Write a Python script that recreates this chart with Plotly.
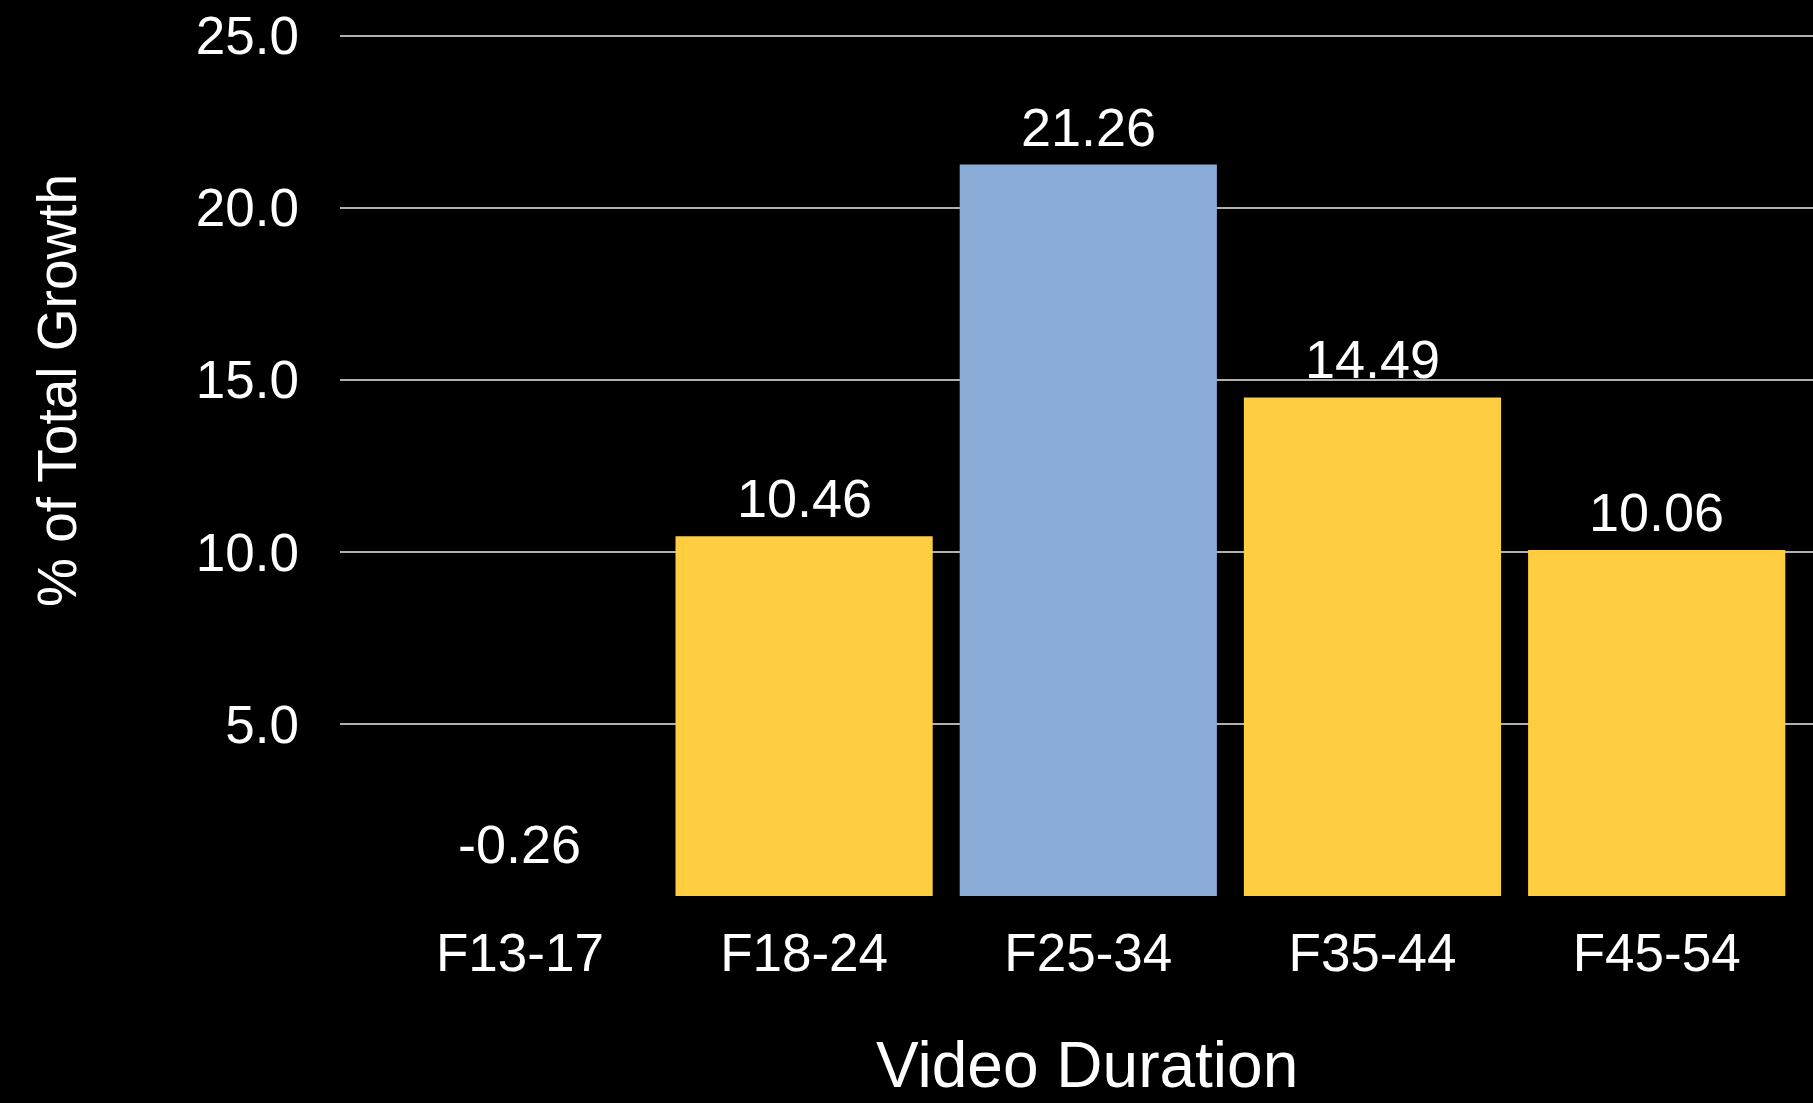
import plotly.graph_objects as go

categories = ["F13-17", "F18-24", "F25-34", "F35-44", "F45-54"]
values = [-0.26, 10.46, 21.26, 14.49, 10.06]
value_labels = ["-0.26", "10.46", "21.26", "14.49", "10.06"]
highlight = "F25-34"
y_tick_vals = [5, 10, 15, 20, 25]
y_tick_text = ["5.0", "10.0", "15.0", "20.0", "25.0"]
x_title = "Video Duration"
y_title = "% of Total Growth"

YELLOW = "#FECD40"
BLUE = "#8BACD6"
FONT = "Liberation Sans, Arial, Helvetica, sans-serif"

colors = [BLUE if c == highlight else YELLOW for c in categories]

fig = go.Figure()
fig.add_trace(go.Bar(
    x=categories,
    y=values,
    marker=dict(color=colors, line=dict(width=0)),
    hoverinfo="x+y",
))

for c, v, t in zip(categories, values, value_labels):
    fig.add_annotation(
        x=c, y=max(v, 0), text=t, showarrow=False,
        xref="x", yref="y", yanchor="bottom",
        yshift=6 if v >= 0 else 20,
        font=dict(family=FONT, size=54, color="white"),
    )

# axis titles
fig.add_annotation(
    text=x_title, showarrow=False, xref="paper", yref="paper",
    x=0.5, y=0, xanchor="center", yanchor="middle", xshift=10, yshift=-169,
    font=dict(family=FONT, size=64, color="white"),
)
fig.add_annotation(
    text=y_title, showarrow=False, xref="paper", yref="paper",
    x=0, y=0.5825, xanchor="center", yanchor="middle", xshift=-283,
    textangle=-90,
    font=dict(family=FONT, size=55, color="white"),
)

fig.update_layout(
    width=1813, height=1103,
    paper_bgcolor="black", plot_bgcolor="black",
    margin=dict(l=340, r=0, t=29, b=207, pad=0),
    bargap=0.095,
    showlegend=False,
    font=dict(family=FONT, color="white"),
    xaxis=dict(
        range=[-0.633, 4.55],
        showgrid=False, zeroline=False, showline=False,
        ticks="", tickfont=dict(family=FONT, size=53, color="white"),
        ticklabelstandoff=21,
    ),
    yaxis=dict(
        range=[0, 25.2],
        tickvals=y_tick_vals, ticktext=y_tick_text,
        showgrid=True, gridcolor="#b0b0b0", gridwidth=2,
        zeroline=False, showline=False, ticks="",
        ticklabelstandoff=40,
        tickfont=dict(family=FONT, size=53, color="white"),
    ),
)

fig.write_html("out.html")
